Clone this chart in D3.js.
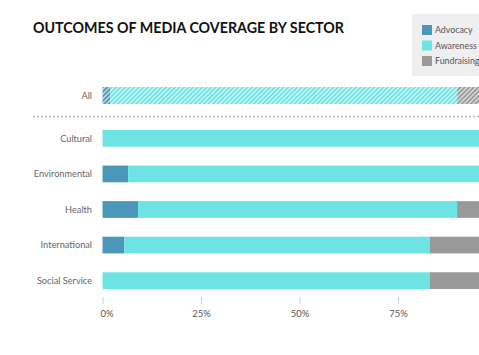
<!DOCTYPE html>
<html><head><meta charset="utf-8">
<script src="https://cdn.jsdelivr.net/npm/d3@7"></script>
<style>
html,body{margin:0;padding:0;background:#fff;overflow:hidden}
text{font-family:Lato,"Open Sans",sans-serif}
</style></head>
<body><svg id="c" width="479" height="355"></svg>
<script>
const series = ["Advocacy","Awareness","Fundraising"];
const colors = ["#4a97b9","#6ee3e4","#999999"];
const summaryLabel = ["All"];
const summaryValues = [[2, 88, 10]];
const sectors = ["Cultural","Environmental","Health","International","Social Service"];
const advocacy    = [0,   6.5, 9,  5.5, 0];
const awareness   = [100, 93.5, 81, 77.5, 83];
const fundraising = [0,   0,   10, 17, 17];
const ticks = [0, 25, 50, 75];
const tickLabels = ["0%","25%","50%","75%"];

const svg = d3.select("#c");
const x = d3.scaleLinear().domain([0,100]).range([102.5,496.5]);
const y = d3.scaleBand().domain(sectors).range([130,289]).paddingInner(0.53).paddingOuter(0);
const yAll = d3.scaleBand().domain(summaryLabel).range([87,104]);
const color = d3.scaleOrdinal().domain(series).range(colors);

// hatch patterns
const defs = svg.append("defs");
series.forEach((s,i)=>{
  const p = defs.append("pattern").attr("id","hatch"+i).attr("patternUnits","userSpaceOnUse")
    .attr("width",3.2).attr("height",3.2).attr("patternTransform","rotate(45)");
  p.append("rect").attr("width",3.2).attr("height",3.2).attr("fill",colors[i]);
  p.append("line").attr("x1",1.6).attr("x2",1.6).attr("y1",0).attr("y2",3.2)
    .attr("stroke","#fff").attr("stroke-width",1.2).attr("stroke-opacity",0.8);
});

// title
svg.append("text").attr("x",33).attr("y",33).text("OUTCOMES OF MEDIA COVERAGE BY SECTOR")
  .attr("font-size",16).attr("font-weight",700).attr("fill","#111")
  .attr("textLength",311).attr("lengthAdjust","spacingAndGlyphs");

// stacked data
const rows = sectors.map((s,i)=>({key:s, Advocacy:advocacy[i], Awareness:awareness[i], Fundraising:fundraising[i]}));
const allRows = summaryLabel.map((s,i)=>({key:s, Advocacy:summaryValues[i][0], Awareness:summaryValues[i][1], Fundraising:summaryValues[i][2]}));
const stack = d3.stack().keys(series);

// All bar (hatched)
svg.append("g").selectAll("g").data(stack(allRows)).join("g")
  .attr("fill",(d,i)=>`url(#hatch${i})`)
  .selectAll("rect").data(d=>d).join("rect")
  .attr("x",d=>x(d[0])).attr("width",d=>x(d[1])-x(d[0]))
  .attr("y",d=>yAll(d.data.key)).attr("height",yAll.bandwidth());

// sector bars
svg.append("g").selectAll("g").data(stack(rows)).join("g")
  .attr("fill",d=>color(d.key))
  .selectAll("rect").data(d=>d).join("rect")
  .attr("x",d=>x(d[0])).attr("width",d=>x(d[1])-x(d[0]))
  .attr("y",d=>y(d.data.key)).attr("height",y.bandwidth());

// category labels
const labG = svg.append("g").attr("font-size",9.2).attr("fill","#666").attr("text-anchor","end");
labG.selectAll("text.s").data(sectors).join("text").attr("class","s")
  .attr("x",92).attr("y",d=>y(d)+y.bandwidth()/2).attr("dy","0.35em").text(d=>d);
labG.selectAll("text.a").data(summaryLabel).join("text").attr("class","a")
  .attr("x",92).attr("y",d=>yAll(d)+yAll.bandwidth()/2).attr("dy","0.35em").text(d=>d);

// dashed separator
svg.append("line").attr("x1",33).attr("x2",479).attr("y1",116.5).attr("y2",116.5)
  .attr("stroke","#bbb").attr("stroke-width",1.5).attr("stroke-dasharray","2,2");

// x axis
const axis = d3.axisBottom(x).tickValues(ticks).tickFormat((d,i)=>tickLabels[i]).tickSize(7).tickPadding(6);
const ag = svg.append("g").attr("transform","translate(0,297)").call(axis);
ag.select(".domain").remove();
ag.selectAll(".tick line").attr("stroke","#ccc");
ag.selectAll(".tick text").attr("font-size",9.5).attr("fill","#555").attr("font-family","Lato,sans-serif");
ag.selectAll(".tick text").filter(d=>d===0).attr("text-anchor","start").attr("x",-2.5);

// legend
const lg = svg.append("g");
lg.append("rect").attr("x",412).attr("y",14).attr("width",80).attr("height",62).attr("fill","#efefef");
const li = lg.selectAll("g").data(series).join("g")
  .attr("transform",(d,i)=>`translate(422,${25+i*15.5})`);
li.append("rect").attr("width",10).attr("height",10).attr("fill",d=>color(d));
li.append("text").attr("x",13).attr("y",5).attr("dy","0.35em").attr("font-size",8.8).attr("fill","#555").text(d=>d);
</script></body></html>
